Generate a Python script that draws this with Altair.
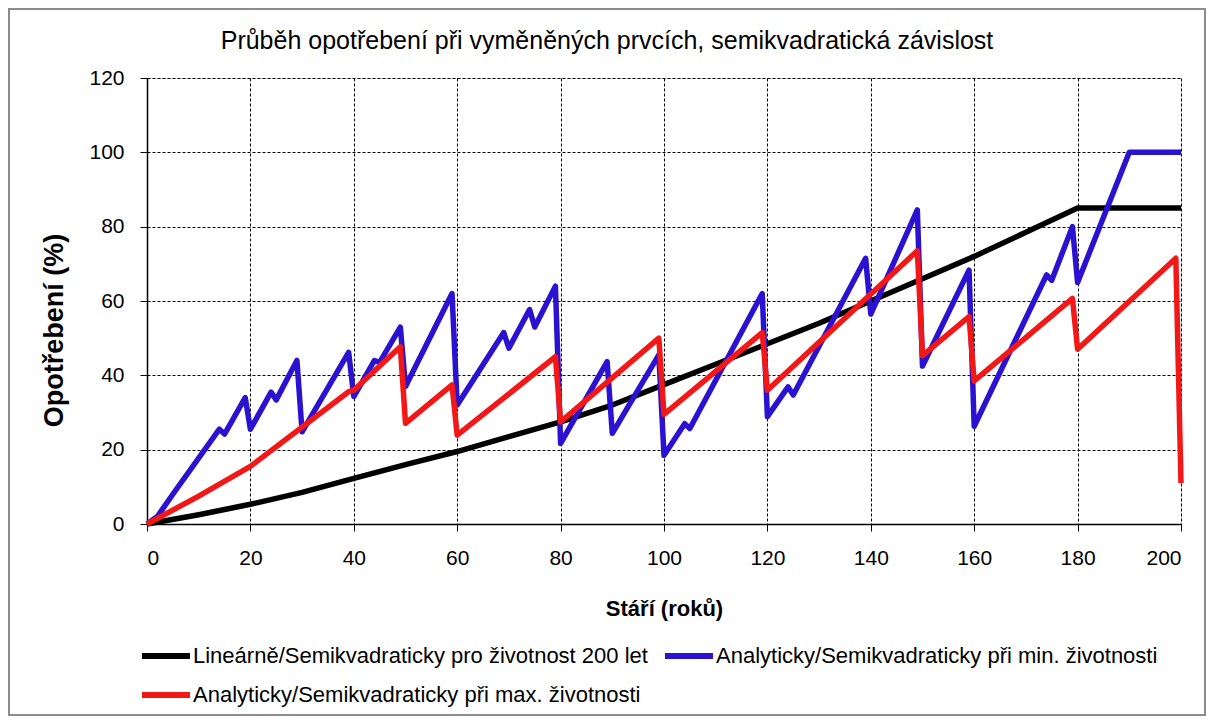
import altair as alt
import pandas as pd

# ---- data ----
s_black = "Lineárně/Semikvadraticky pro životnost 200 let"
s_blue = "Analyticky/Semikvadraticky při min. životnosti"
s_red = "Analyticky/Semikvadraticky při max. životnosti"
chart_title = "Průběh opotřebení při vyměněných prvcích, semikvadratická závislost"

black_x = [0, 10, 20, 30, 40, 50, 60, 70, 80, 90, 100, 110, 120, 130, 140, 150, 160, 170, 180, 200]
black_y = [0, 2.5, 5.3, 8.5, 12.3, 16, 19.5, 23.5, 27.5, 32, 37.5, 43, 48.5, 54, 60, 66, 72, 78.5, 85, 85]

blue_x = [0, 2, 5, 14, 15, 19, 20, 24, 25, 29, 30, 39, 40, 44, 45, 49, 50, 59, 60, 69, 70, 74, 75, 79,
          80, 89, 90, 99, 100, 104, 105, 119, 120, 124, 125, 139, 140, 149, 150, 159, 160, 174, 175,
          179, 180, 190, 200]
blue_y = [0, 2, 8, 25.5, 24.2, 34, 25.5, 35.5, 33.4, 44, 24.8, 46.2, 34.3, 44, 43.5, 53, 37, 62, 32,
          51.5, 47.3, 57.7, 53, 64, 21.7, 43.7, 24.4, 45.5, 18.5, 27, 25.7, 62, 28.9, 36.9, 34.7, 71.5,
          56.5, 84.5, 42.5, 68.3, 26.3, 67, 65.6, 80, 65, 100, 100]

red_x = [0, 10, 20, 39, 40, 49, 50, 59, 60, 79, 80, 99, 100, 119, 120, 149, 150, 159, 160, 179, 180, 199, 200]
red_y = [0, 7.5, 15.5, 35.6, 36, 47.7, 27.1, 37.4, 23.9, 45, 27.5, 50, 29.5, 51.5, 36, 73.5, 45.3,
         55.8, 38.5, 60.7, 47, 71.5, 11]

x_ticks = [0, 20, 40, 60, 80, 100, 120, 140, 160, 180, 200]
y_ticks = [0, 20, 40, 60, 80, 100, 120]

series_names = [s_black, s_blue, s_red]
series_colors = ["#000000", "#2b12d0", "#f21818"]

rows = []
for name, xs, ys in [(s_black, black_x, black_y), (s_blue, blue_x, blue_y), (s_red, red_x, red_y)]:
    for i, (xv, yv) in enumerate(zip(xs, ys)):
        rows.append({"series": name, "age": xv, "wear": yv, "idx": i})
df = pd.DataFrame(rows)

# ---- layout ----
W, H = 1034, 446
PL, PT, PR, PB = 139, 70, 25, 192
FONT = "Liberation Sans, Arial, sans-serif"

frame = alt.Chart(alt.Data(values=[{"a": 1}])).mark_rect(
    fill="white", fillOpacity=0, stroke="#8c8c8c", strokeWidth=2
).encode(
    x=alt.value(-PL + 1), x2=alt.value(W + PR - 1),
    y=alt.value(-PT + 1), y2=alt.value(H + PB - 1),
)

title = alt.Chart(alt.Data(values=[{"t": chart_title}])).mark_text(
    font=FONT, fontSize=25, color="black", align="center", baseline="alphabetic"
).encode(
    text="t:N", x=alt.value(460), y=alt.value(-29),
)

lines = alt.Chart(df).mark_line(strokeWidth=5.5, strokeJoin="round").encode(
    x=alt.X("age:Q", scale=alt.Scale(domain=[0, 200], nice=False),
            axis=alt.Axis(values=x_ticks, title="Stáří (roků)", titleFont=FONT, titleFontSize=22,
                          titleFontWeight="bold", titleColor="black", titleX=W / 2, titleY=91,
                          titleBaseline="alphabetic", titleAnchor="middle",
                          labelFont=FONT, labelFontSize=21, labelColor="black", labelPadding=16,
                          tickSize=7, tickColor="black", domainColor="black", domainWidth=1.5,
                          grid=True, gridColor="black", gridDash=[3, 2], gridWidth=1)),
    y=alt.Y("wear:Q", scale=alt.Scale(domain=[0, 120], nice=False),
            axis=alt.Axis(values=y_ticks, title="Opotřebení (%)", titleFont=FONT, titleFontSize=27,
                          titleFontWeight="bold", titleColor="black", titleX=-85, titleY=252,
                          titleAngle=270, titleBaseline="alphabetic", titleAlign="center",
                          labelFont=FONT, labelFontSize=21, labelColor="black", labelPadding=16,
                          tickSize=7, tickColor="black", domainColor="black", domainWidth=1.5,
                          grid=True, gridColor="black", gridDash=[3, 2], gridWidth=1)),
    color=alt.Color("series:N", scale=alt.Scale(domain=series_names, range=series_colors),
                    legend=alt.Legend(orient="none", legendX=-8, legendY=551, columns=2,
                                      direction="horizontal",
                                      title=None, labelFont=FONT, labelFontSize=22,
                                      labelColor="black", labelLimit=800, labelOffset=0,
                                      symbolType="stroke", symbolSize=2304, symbolStrokeWidth=6,
                                      columnPadding=5, rowPadding=-16, padding=0)),
    order="idx:Q",
)

chart = alt.layer(frame, title, lines).properties(
    width=W, height=H,
    padding={"left": PL, "top": PT, "right": PR, "bottom": PB},
    autosize=alt.AutoSizeParams(type="none"),
).configure_view(stroke="black", strokeWidth=1).configure(background="white")

chart.save("out.html", embed_options={"renderer": "svg", "actions": False})
